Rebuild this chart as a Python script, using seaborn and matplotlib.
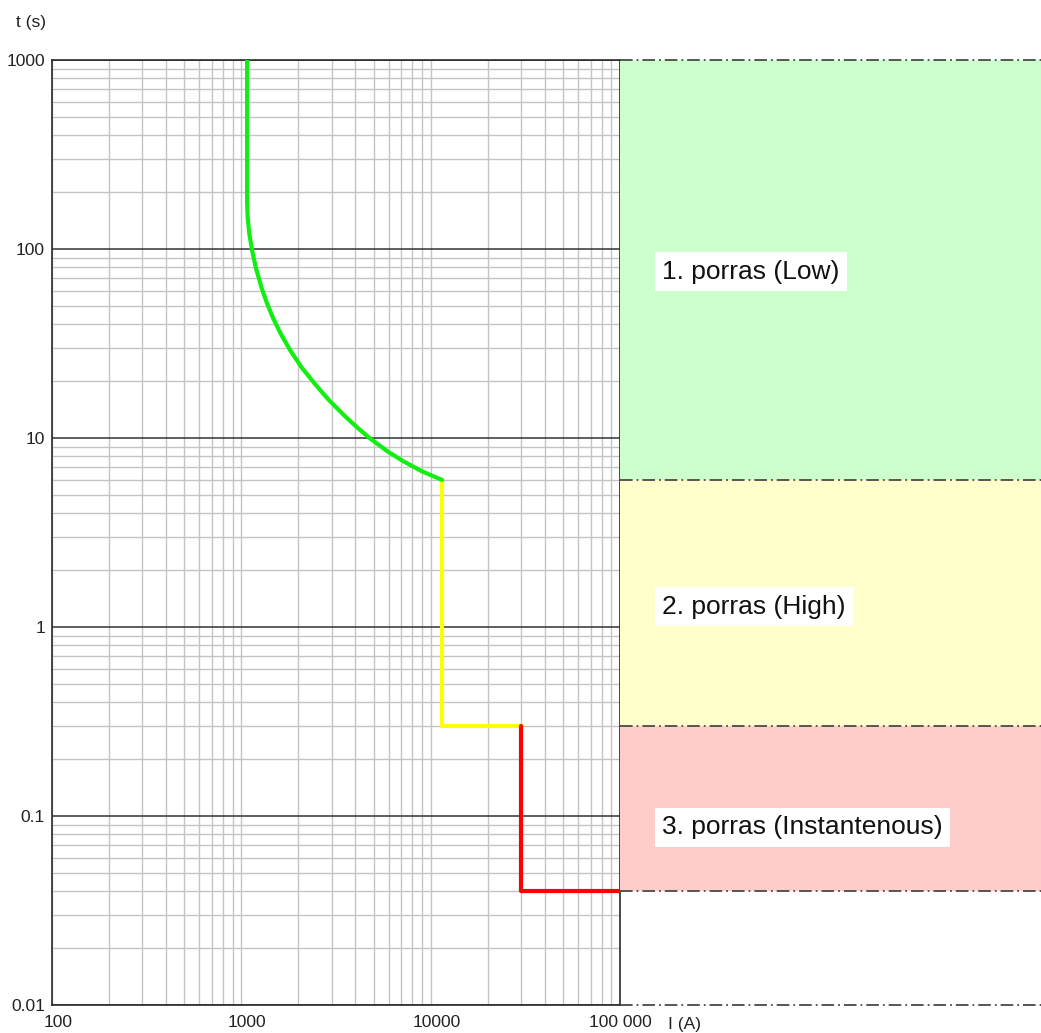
import numpy as np
import matplotlib
matplotlib.use("Agg")
import matplotlib.pyplot as plt
import matplotlib.transforms as mtransforms
import seaborn as sns
from matplotlib.ticker import LogLocator, FixedLocator, NullFormatter

# time-current curve (I in A, t in s)
current_low = [1072, 1072, 1074, 1080, 1102, 1143, 1195, 1281, 1370, 1476, 1620, 1808,
               2084, 2449, 2880, 3457, 4100, 4782, 5975, 7170, 8970, 11500]
time_low = [1000, 189, 169, 147, 120, 97, 79, 62, 51.2, 42.8, 35.4, 29.2,
            23.6, 19.3, 16.0, 13.3, 11.35, 9.95, 8.44, 7.54, 6.67, 6.0]
current_high = [11500, 11500, 30000]
time_high = [6, 0.3, 0.3]
current_inst = [30000, 30000, 100000]
time_inst = [0.3, 0.04, 0.04]

zone_names = ["1. porras (Low)", "2. porras (High)", "3. porras (Instantenous)"]
zone_top = [1000, 6, 0.3]
zone_bottom = [6, 0.3, 0.04]
zone_edges = [1000, 6, 0.3, 0.04, 0.01]

x_ticks = [100, 1000, 10000, 100000]
x_tick_labels = ["100", "1000", "10000", "100 000"]
y_ticks = [0.01, 0.1, 1, 10, 100, 1000]
y_tick_labels = ["0.01", "0.1", "1", "10", "100", "1000"]

sns.set_style("white")
plt.rcParams["font.family"] = ["Liberation Sans", "DejaVu Sans"]

W, H = 1041, 1033
fig = plt.figure(figsize=(W / 100, H / 100), dpi=100)
ax = fig.add_axes([52 / W, 1 - 1005 / H, 568 / W, 945 / H])
ax_zone = fig.add_axes([620 / W, 1 - 1005 / H, 421 / W, 945 / H])

# main log-log grid
ax.set_xscale("log")
ax.set_yscale("log")
ax.set_xlim(100, 100000)
ax.set_ylim(0.01, 1000)
ax.xaxis.set_major_locator(FixedLocator(x_ticks))
ax.yaxis.set_major_locator(FixedLocator(y_ticks))
ax.set_xticklabels(x_tick_labels)
ax.set_yticklabels(y_tick_labels)
ax.xaxis.set_minor_locator(LogLocator(base=10, subs=np.arange(2, 10)))
ax.yaxis.set_minor_locator(LogLocator(base=10, subs=np.arange(2, 10)))
ax.xaxis.set_minor_formatter(NullFormatter())
ax.yaxis.set_minor_formatter(NullFormatter())
ax.tick_params(which="both", length=0, labelsize=12.5, colors="#222222")
ax.tick_params(axis="x", pad=7)
ax.tick_params(axis="y", pad=5)
# labels under the x axis sit a little right of their grid line
for lbl in ax.get_xticklabels()[:-1]:
    lbl.set_transform(lbl.get_transform() +
                      mtransforms.ScaledTranslation(6 / 100, 0, fig.dpi_scale_trans))
ax.set_axisbelow(True)
ax.grid(which="minor", color="#c4c4c4", lw=1.0)
ax.grid(which="major", axis="x", color="#c4c4c4", lw=1.0)
ax.grid(which="major", axis="y", color="#333333", lw=1.1)
for sp in ax.spines.values():
    sp.set_color("#2a2a2a")
    sp.set_linewidth(1.2)

sns.lineplot(x=current_low, y=time_low, ax=ax, sort=False, estimator=None,
             color="#11ee11", lw=3, zorder=5, solid_joinstyle="round")
sns.lineplot(x=current_high, y=time_high, ax=ax, sort=False, estimator=None,
             color="#ffff00", lw=3, zorder=4)
sns.lineplot(x=current_inst, y=time_inst, ax=ax, sort=False, estimator=None,
             color="#ff0000", lw=3, zorder=4)

# zone panel to the right
ax_zone.set_yscale("log")
ax_zone.set_ylim(0.01, 1000)
ax_zone.set_xlim(0, 1)
ax_zone.axis("off")
zone_colors = ["#ccffcc", "#ffffcc", "#ffcccc"]
for top, bottom, c in zip(zone_top, zone_bottom, zone_colors):
    ax_zone.axhspan(bottom, top, color=c, lw=0, zorder=1)
for e in zone_edges:
    ax_zone.axhline(e, color="#4a4a4a", lw=1.3, ls=(0, (7, 2.2, 1, 2.2)),
                    clip_on=False, zorder=3)

trans = mtransforms.blended_transform_factory(ax_zone.transAxes, ax_zone.transData)
zone_label_t = [76, 1.28, 0.087]
for name, ty in zip(zone_names, zone_label_t):
    ax_zone.text(0.1, ty, name, transform=trans, fontsize=19, color="#111111",
                 ha="left", va="center",
                 bbox=dict(boxstyle="square,pad=0.28", fc="white", ec="none"), zorder=4)

fig.text(31 / W, 1 - 23 / H, "t (s)", ha="center", va="center", fontsize=12.5, color="#222222")
fig.text(684 / W, 1 - 1024 / H, "I (A)", ha="center", va="center", fontsize=12.5, color="#222222")

fig.savefig("out.png", dpi=100)
